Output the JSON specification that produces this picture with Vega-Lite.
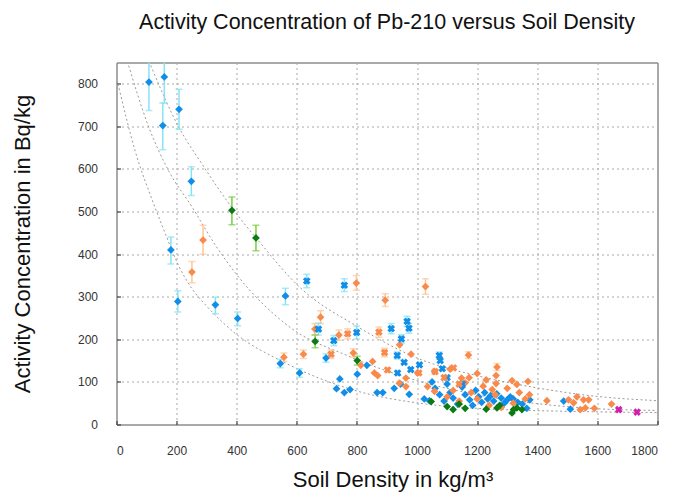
{
  "$schema": "https://vega.github.io/schema/vega-lite/v6.json",
  "autosize": "none",
  "width": 541,
  "height": 362,
  "padding": {"left": 116.5, "top": 62.5, "right": 15, "bottom": 68},
  "background": "white",
  "title": {"text": "Activity Concentration of Pb-210 versus Soil Density", "font": "Liberation Sans", "fontSize": 21.5, "fontWeight": "normal", "color": "#111", "anchor": "middle", "offset": 29},
  "config": {
    "view": {"stroke": "#555", "strokeWidth": 1},
    "axis": {"domain": false, "ticks": true, "tickSize": -4, "tickColor": "#444", "tickWidth": 1.2, "grid": true, "gridColor": "#a8a8a8", "gridDash": [2, 3], "gridWidth": 1, "labelFont": "Liberation Sans", "labelFontSize": 12, "labelColor": "#333", "titleFont": "Liberation Sans", "titleFontSize": 22, "titleFontWeight": "normal", "titleColor": "#111"}
  },
  "datasets": {
    "pts": [
      {"x": 108, "y": 804, "lo": 737, "hi": 870, "s": "blue", "m": "d"},
      {"x": 159, "y": 816, "lo": 755, "hi": 870, "s": "blue", "m": "d"},
      {"x": 154, "y": 702, "lo": 645, "hi": 755, "s": "blue", "m": "d"},
      {"x": 208, "y": 740, "lo": 693, "hi": 787, "s": "blue", "m": "d"},
      {"x": 249, "y": 571, "lo": 538, "hi": 605, "s": "blue", "m": "d"},
      {"x": 181, "y": 410, "lo": 377, "hi": 440, "s": "blue", "m": "d"},
      {"x": 204, "y": 289, "lo": 264, "hi": 314, "s": "blue", "m": "d"},
      {"x": 329, "y": 281, "lo": 260, "hi": 299, "s": "blue", "m": "d"},
      {"x": 403, "y": 249, "lo": 232, "hi": 264, "s": "blue", "m": "d"},
      {"x": 562, "y": 302, "lo": 281, "hi": 320, "s": "blue", "m": "d"},
      {"x": 545, "y": 143, "lo": 133, "hi": 153, "s": "blue", "m": "d"},
      {"x": 609, "y": 121, "lo": 111, "hi": 131, "s": "blue", "m": "d"},
      {"x": 697, "y": 156, "lo": 146, "hi": 166, "s": "blue", "m": "d"},
      {"x": 743, "y": 107, "s": "blue", "m": "d"},
      {"x": 732, "y": 84, "s": "blue", "m": "d"},
      {"x": 758, "y": 75, "s": "blue", "m": "d"},
      {"x": 777, "y": 82, "s": "blue", "m": "d"},
      {"x": 801, "y": 118, "s": "blue", "m": "d"},
      {"x": 833, "y": 139, "s": "blue", "m": "d"},
      {"x": 867, "y": 75, "s": "blue", "m": "d"},
      {"x": 886, "y": 75, "s": "blue", "m": "d"},
      {"x": 924, "y": 85, "s": "blue", "m": "d"},
      {"x": 945, "y": 95, "s": "blue", "m": "d"},
      {"x": 974, "y": 71, "s": "blue", "m": "d"},
      {"x": 1024, "y": 60, "s": "blue", "m": "d"},
      {"x": 1041, "y": 56, "s": "blue", "m": "d"},
      {"x": 1050, "y": 100, "s": "blue", "m": "d"},
      {"x": 1060, "y": 85, "s": "blue", "m": "d"},
      {"x": 1075, "y": 70, "s": "blue", "m": "d"},
      {"x": 1090, "y": 55, "s": "blue", "m": "d"},
      {"x": 1100, "y": 95, "s": "blue", "m": "d"},
      {"x": 1110, "y": 75, "s": "blue", "m": "d"},
      {"x": 1120, "y": 62, "s": "blue", "m": "d"},
      {"x": 1135, "y": 48, "s": "blue", "m": "d"},
      {"x": 1150, "y": 88, "s": "blue", "m": "d"},
      {"x": 1160, "y": 70, "s": "blue", "m": "d"},
      {"x": 1175, "y": 58, "s": "blue", "m": "d"},
      {"x": 1185, "y": 45, "s": "blue", "m": "d"},
      {"x": 1195, "y": 80, "s": "blue", "m": "d"},
      {"x": 1205, "y": 65, "s": "blue", "m": "d"},
      {"x": 1215, "y": 52, "s": "blue", "m": "d"},
      {"x": 1225, "y": 75, "s": "blue", "m": "d"},
      {"x": 1235, "y": 60, "s": "blue", "m": "d"},
      {"x": 1245, "y": 68, "s": "blue", "m": "d"},
      {"x": 1255, "y": 55, "s": "blue", "m": "d"},
      {"x": 1265, "y": 72, "s": "blue", "m": "d"},
      {"x": 1280, "y": 62, "s": "blue", "m": "d"},
      {"x": 1290, "y": 50, "s": "blue", "m": "d"},
      {"x": 1300, "y": 58, "s": "blue", "m": "d"},
      {"x": 1310, "y": 65, "s": "blue", "m": "d"},
      {"x": 1320, "y": 60, "s": "blue", "m": "d"},
      {"x": 1335, "y": 52, "s": "blue", "m": "d"},
      {"x": 1350, "y": 48, "s": "blue", "m": "d"},
      {"x": 1365, "y": 38, "s": "blue", "m": "d"},
      {"x": 1375, "y": 58, "s": "blue", "m": "d"},
      {"x": 1488, "y": 55, "s": "blue", "m": "d"},
      {"x": 1510, "y": 36, "s": "blue", "m": "d"},
      {"x": 633, "y": 337, "lo": 321, "hi": 353, "s": "blue", "m": "x"},
      {"x": 758, "y": 327, "lo": 312, "hi": 342, "s": "blue", "m": "x"},
      {"x": 672, "y": 224, "lo": 210, "hi": 238, "s": "blue", "m": "x"},
      {"x": 723, "y": 197, "lo": 185, "hi": 209, "s": "blue", "m": "x"},
      {"x": 799, "y": 216, "lo": 201, "hi": 231, "s": "blue", "m": "x"},
      {"x": 914, "y": 225, "lo": 213, "hi": 237, "s": "blue", "m": "x"},
      {"x": 967, "y": 242, "lo": 230, "hi": 254, "s": "blue", "m": "x"},
      {"x": 973, "y": 226, "lo": 214, "hi": 238, "s": "blue", "m": "x"},
      {"x": 948, "y": 201, "lo": 191, "hi": 211, "s": "blue", "m": "x"},
      {"x": 934, "y": 162, "lo": 154, "hi": 170, "s": "blue", "m": "x"},
      {"x": 957, "y": 146, "s": "blue", "m": "x"},
      {"x": 935, "y": 121, "s": "blue", "m": "x"},
      {"x": 1008, "y": 140, "s": "blue", "m": "x"},
      {"x": 979, "y": 129, "s": "blue", "m": "x"},
      {"x": 1074, "y": 162, "lo": 154, "hi": 170, "s": "blue", "m": "x"},
      {"x": 1077, "y": 150, "s": "blue", "m": "x"},
      {"x": 1084, "y": 131, "s": "blue", "m": "x"},
      {"x": 1100, "y": 110, "s": "blue", "m": "x"},
      {"x": 1150, "y": 95, "s": "blue", "m": "x"},
      {"x": 288, "y": 433, "lo": 400, "hi": 468, "s": "orange", "m": "d"},
      {"x": 251, "y": 358, "lo": 333, "hi": 383, "s": "orange", "m": "d"},
      {"x": 798, "y": 332, "lo": 315, "hi": 350, "s": "orange", "m": "d"},
      {"x": 894, "y": 292, "lo": 277, "hi": 307, "s": "orange", "m": "d"},
      {"x": 1028, "y": 324, "lo": 306, "hi": 342, "s": "orange", "m": "d"},
      {"x": 679, "y": 252, "lo": 237, "hi": 267, "s": "orange", "m": "d"},
      {"x": 660, "y": 224, "lo": 211, "hi": 237, "s": "orange", "m": "d"},
      {"x": 740, "y": 210, "lo": 198, "hi": 222, "s": "orange", "m": "d"},
      {"x": 557, "y": 158, "lo": 148, "hi": 168, "s": "orange", "m": "d"},
      {"x": 622, "y": 165, "lo": 155, "hi": 175, "s": "orange", "m": "d"},
      {"x": 788, "y": 168, "lo": 158, "hi": 178, "s": "orange", "m": "d"},
      {"x": 852, "y": 148, "s": "orange", "m": "d"},
      {"x": 942, "y": 187, "s": "orange", "m": "d"},
      {"x": 980, "y": 165, "s": "orange", "m": "d"},
      {"x": 813, "y": 139, "s": "orange", "m": "d"},
      {"x": 858, "y": 121, "s": "orange", "m": "d"},
      {"x": 869, "y": 115, "s": "orange", "m": "d"},
      {"x": 963, "y": 109, "s": "orange", "m": "d"},
      {"x": 1002, "y": 121, "s": "orange", "m": "d"},
      {"x": 1058, "y": 125, "s": "orange", "m": "d"},
      {"x": 941, "y": 97, "s": "orange", "m": "d"},
      {"x": 963, "y": 89, "s": "orange", "m": "d"},
      {"x": 1035, "y": 89, "s": "orange", "m": "d"},
      {"x": 1058, "y": 78, "s": "orange", "m": "d"},
      {"x": 1171, "y": 163, "lo": 155, "hi": 171, "s": "orange", "m": "d"},
      {"x": 1148, "y": 109, "s": "orange", "m": "d"},
      {"x": 1173, "y": 110, "s": "orange", "m": "d"},
      {"x": 1266, "y": 135, "lo": 127, "hi": 143, "s": "orange", "m": "d"},
      {"x": 1263, "y": 115, "s": "orange", "m": "d"},
      {"x": 1263, "y": 96, "s": "orange", "m": "d"},
      {"x": 1316, "y": 103, "s": "orange", "m": "d"},
      {"x": 1332, "y": 94, "s": "orange", "m": "d"},
      {"x": 1369, "y": 101, "s": "orange", "m": "d"},
      {"x": 1374, "y": 70, "s": "orange", "m": "d"},
      {"x": 1432, "y": 56, "s": "orange", "m": "d"},
      {"x": 1504, "y": 58, "s": "orange", "m": "d"},
      {"x": 1521, "y": 51, "s": "orange", "m": "d"},
      {"x": 1532, "y": 65, "s": "orange", "m": "d"},
      {"x": 1543, "y": 35, "s": "orange", "m": "d"},
      {"x": 1554, "y": 58, "s": "orange", "m": "d"},
      {"x": 1571, "y": 58, "s": "orange", "m": "d"},
      {"x": 1560, "y": 39, "s": "orange", "m": "d"},
      {"x": 1590, "y": 38, "s": "orange", "m": "d"},
      {"x": 1647, "y": 48, "s": "orange", "m": "d"},
      {"x": 1100, "y": 65, "s": "orange", "m": "d"},
      {"x": 1120, "y": 80, "s": "orange", "m": "d"},
      {"x": 1140, "y": 55, "s": "orange", "m": "d"},
      {"x": 1160, "y": 98, "s": "orange", "m": "d"},
      {"x": 1180, "y": 75, "s": "orange", "m": "d"},
      {"x": 1200, "y": 60, "s": "orange", "m": "d"},
      {"x": 1220, "y": 90, "s": "orange", "m": "d"},
      {"x": 1240, "y": 45, "s": "orange", "m": "d"},
      {"x": 1260, "y": 70, "s": "orange", "m": "d"},
      {"x": 1280, "y": 40, "s": "orange", "m": "d"},
      {"x": 1300, "y": 85, "s": "orange", "m": "d"},
      {"x": 1320, "y": 50, "s": "orange", "m": "d"},
      {"x": 1340, "y": 75, "s": "orange", "m": "d"},
      {"x": 1360, "y": 60, "s": "orange", "m": "d"},
      {"x": 1200, "y": 120, "s": "orange", "m": "d"},
      {"x": 1230, "y": 105, "s": "orange", "m": "d"},
      {"x": 1110, "y": 130, "s": "orange", "m": "d"},
      {"x": 1250, "y": 82, "s": "orange", "m": "d"},
      {"x": 769, "y": 213, "lo": 201, "hi": 225, "s": "orange", "m": "x"},
      {"x": 873, "y": 217, "lo": 205, "hi": 229, "s": "orange", "m": "x"},
      {"x": 714, "y": 165, "lo": 155, "hi": 175, "s": "orange", "m": "x"},
      {"x": 892, "y": 169, "lo": 159, "hi": 179, "s": "orange", "m": "x"},
      {"x": 902, "y": 128, "s": "orange", "m": "x"},
      {"x": 1006, "y": 121, "s": "orange", "m": "x"},
      {"x": 1060, "y": 124, "s": "orange", "m": "x"},
      {"x": 1121, "y": 133, "s": "orange", "m": "x"},
      {"x": 1090, "y": 110, "s": "orange", "m": "x"},
      {"x": 1140, "y": 95, "s": "orange", "m": "x"},
      {"x": 384, "y": 503, "lo": 469, "hi": 534, "s": "green", "m": "d"},
      {"x": 464, "y": 438, "lo": 408, "hi": 468, "s": "green", "m": "d"},
      {"x": 661, "y": 195, "lo": 180, "hi": 210, "s": "green", "m": "d"},
      {"x": 801, "y": 150, "lo": 140, "hi": 160, "s": "green", "m": "d"},
      {"x": 1047, "y": 54, "s": "green", "m": "d"},
      {"x": 1100, "y": 42, "s": "green", "m": "d"},
      {"x": 1120, "y": 35, "s": "green", "m": "d"},
      {"x": 1140, "y": 48, "s": "green", "m": "d"},
      {"x": 1160, "y": 38, "s": "green", "m": "d"},
      {"x": 1230, "y": 36, "s": "green", "m": "d"},
      {"x": 1266, "y": 39, "s": "green", "m": "d"},
      {"x": 1275, "y": 45, "s": "green", "m": "d"},
      {"x": 1316, "y": 27, "s": "green", "m": "d"},
      {"x": 1321, "y": 35, "s": "green", "m": "d"},
      {"x": 1332, "y": 39, "s": "green", "m": "d"},
      {"x": 1349, "y": 35, "s": "green", "m": "d"},
      {"x": 1671, "y": 35, "s": "magenta", "m": "x"},
      {"x": 1732, "y": 29, "s": "magenta", "m": "x"}
    ],
    "curves": [
      {"c": "A", "x": 108, "y": 853}, {"c": "A", "x": 208, "y": 697}, {"c": "A", "x": 286, "y": 610}, {"c": "A", "x": 384, "y": 509}, {"c": "A", "x": 474, "y": 430}, {"c": "A", "x": 610, "y": 322}, {"c": "A", "x": 799, "y": 231}, {"c": "A", "x": 1004, "y": 155}, {"c": "A", "x": 1210, "y": 113}, {"c": "A", "x": 1399, "y": 86}, {"c": "A", "x": 1599, "y": 66}, {"c": "A", "x": 1799, "y": 56},
      {"c": "B", "x": 36, "y": 853}, {"c": "B", "x": 108, "y": 697}, {"c": "B", "x": 174, "y": 595}, {"c": "B", "x": 252, "y": 510}, {"c": "B", "x": 330, "y": 420}, {"c": "B", "x": 402, "y": 350}, {"c": "B", "x": 574, "y": 230}, {"c": "B", "x": 774, "y": 160}, {"c": "B", "x": 1000, "y": 103}, {"c": "B", "x": 1200, "y": 70}, {"c": "B", "x": 1400, "y": 49}, {"c": "B", "x": 1600, "y": 37}, {"c": "B", "x": 1799, "y": 33},
      {"c": "C", "x": 5, "y": 800}, {"c": "C", "x": 63, "y": 640}, {"c": "C", "x": 120, "y": 525}, {"c": "C", "x": 163, "y": 447}, {"c": "C", "x": 204, "y": 377}, {"c": "C", "x": 250, "y": 320}, {"c": "C", "x": 300, "y": 278}, {"c": "C", "x": 397, "y": 213}, {"c": "C", "x": 552, "y": 148}, {"c": "C", "x": 774, "y": 84}, {"c": "C", "x": 1030, "y": 48}, {"c": "C", "x": 1200, "y": 38}, {"c": "C", "x": 1500, "y": 31}, {"c": "C", "x": 1799, "y": 28}
    ]
  },
  "encoding": {
    "x": {"field": "x", "type": "quantitative", "scale": {"domain": [0, 1800], "nice": false}, "axis": {"values": [0, 200, 400, 600, 800, 1000, 1200, 1400, 1600, 1800], "format": "d", "title": "Soil Density in kg/m³", "labelPadding": 25, "titleX": 276, "titleY": 55, "titleBaseline": "middle"}},
    "y": {"field": "y", "type": "quantitative", "scale": {"domain": [0, 850], "nice": false}, "axis": {"values": [0, 100, 200, 300, 400, 500, 600, 700, 800], "format": "d", "title": "Activity Concentration in Bq/kg", "labelPadding": 23, "titleX": -94, "titleY": 181, "titleBaseline": "middle", "titleAlign": "center"}}
  },
  "layer": [
    {
      "data": {"name": "curves"},
      "mark": {"type": "line", "color": "#9a9a9a", "strokeWidth": 1, "strokeDash": [2, 2.5], "interpolate": "monotone", "clip": true},
      "encoding": {"detail": {"field": "c"}}
    },
    {
      "data": {"name": "pts"},
      "transform": [{"filter": "isValid(datum.lo)"}],
      "layer": [
        {"mark": {"type": "rule", "strokeWidth": 1.5, "clip": true}, "encoding": {"y": {"field": "lo", "type": "quantitative"}, "y2": {"field": "hi"}}},
        {"mark": {"type": "tick", "orient": "horizontal", "size": 7, "thickness": 1.5, "clip": true}, "encoding": {"y": {"field": "lo", "type": "quantitative"}}},
        {"mark": {"type": "tick", "orient": "horizontal", "size": 7, "thickness": 1.5, "clip": true}, "encoding": {"y": {"field": "hi", "type": "quantitative"}}}
      ],
      "encoding": {"color": {"field": "s", "type": "nominal", "legend": null, "scale": {"domain": ["blue", "orange", "green", "magenta"], "range": ["#86e3f5", "#fcc697", "#79cf3c", "#f08ad8"]}}}
    },
    {
      "data": {"name": "pts"},
      "layer": [
        {"transform": [{"filter": "datum.m == 'd'"}], "mark": {"type": "point", "shape": "diamond", "filled": true, "size": 60, "opacity": 1}},
        {"transform": [{"filter": "datum.m == 'x'"}], "mark": {"type": "point", "shape": "cross", "angle": 45, "filled": true, "size": 60, "opacity": 1}}
      ],
      "encoding": {"color": {"field": "s", "type": "nominal", "legend": null, "scale": {"domain": ["blue", "orange", "green", "magenta"], "range": ["#118ee8", "#f98a4c", "#0c7a14", "#d21fae"]}}}
    }
  ],
  "resolve": {"scale": {"color": "independent"}}
}
